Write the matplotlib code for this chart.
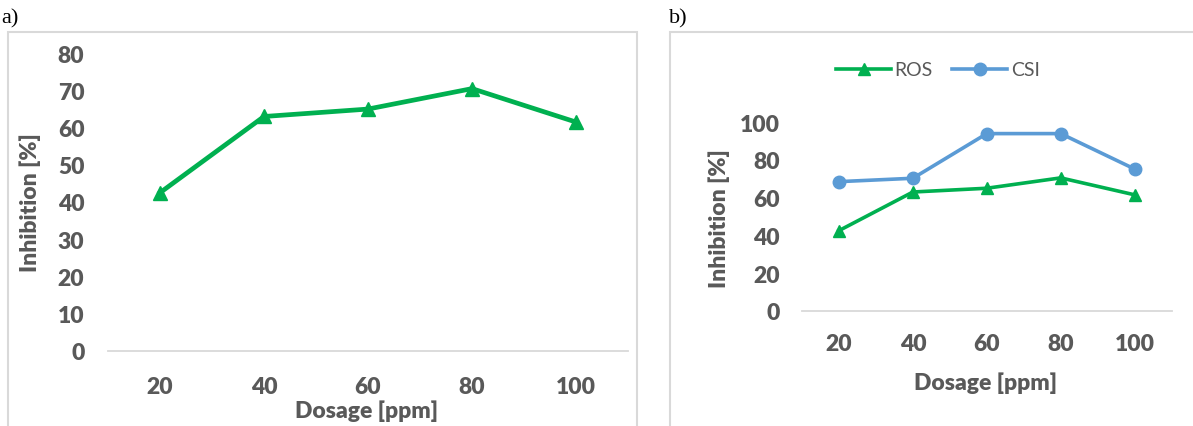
import numpy as np
import matplotlib.pyplot as plt
from matplotlib.patches import Rectangle

# данные
dosage = ['20', '40', '60', '80', '100']
ros = [42.5, 63.0, 65.0, 70.5, 61.5]
csi = [68.5, 70.3, 94.0, 94.0, 75.2]

GREEN = '#00B050'
BLUE = '#5B9BD5'
GRAY = '#595959'
AXIS = '#D9D9D9'

plt.rcParams['font.family'] = ['Lato', 'DejaVu Sans']

W, H = 1193, 427
fig = plt.figure(figsize=(W / 100, H / 100), dpi=100)

def px(x0, y0, x1, y1):
    # прямоугольник в пикселях -> доли фигуры
    return [x0 / W, 1 - y1 / H, (x1 - x0) / W, (y1 - y0) / H]

# рамки панелей
for (x0, y0, x1, y1) in [(8, 33, 637, 440), (670, 33, 1200, 440)]:
    fig.patches.append(Rectangle((x0 / W, 1 - y1 / H), (x1 - x0) / W, (y1 - y0) / H,
                                 transform=fig.transFigure, fill=False,
                                 edgecolor=AXIS, lw=1.5, zorder=0))

fig.text(1 / W, 1 - 19 / H, 'a)', family='Liberation Serif', fontsize=16, va='center')
fig.text(669 / W, 1 - 19 / H, 'b)', family='Liberation Serif', fontsize=16, va='center')

FS = 16.5


def style(ax, ymax, step, tpad_x, tpad_y):
    x = np.arange(len(dosage))
    ax.set_xlim(-0.5, len(dosage) - 0.5)
    ax.set_ylim(0, ymax)
    ax.set_xticks(x)
    ax.set_xticklabels(dosage)
    ax.set_yticks(np.arange(0, ymax + 1, step))
    for s in ['top', 'right', 'left']:
        ax.spines[s].set_visible(False)
    ax.spines['bottom'].set_color(AXIS)
    ax.spines['bottom'].set_linewidth(1.3)
    ax.tick_params(length=0, labelsize=FS, colors=GRAY)
    ax.tick_params(axis='x', pad=tpad_x)
    ax.tick_params(axis='y', pad=tpad_y)
    for lab in ax.get_xticklabels() + ax.get_yticklabels():
        lab.set_fontweight('heavy')
    ax.patch.set_alpha(0)


# панель a
ax1 = fig.add_axes(px(108, 54.3, 628, 351.7))
ax1.plot(np.arange(len(dosage)), ros, color=GREEN, lw=3.4, marker='^', ms=10, clip_on=False)
style(ax1, 80, 10, 18, 17)
ax1.set_xlabel('Dosage [ppm]', fontsize=FS, fontweight='heavy', color=GRAY)
ax1.set_ylabel('Inhibition [%]', fontsize=FS, fontweight='heavy', color=GRAY)
ax1.xaxis.set_label_coords(0.498, -0.163)
ax1.yaxis.set_label_coords(-0.129, 0.5)

# панель b
ax2 = fig.add_axes(px(802, 123.3, 1171.6, 311.7))
x = np.arange(len(dosage))
ax2.plot(x, ros, color=GREEN, lw=2.6, marker='^', ms=9, label='ROS', clip_on=False)
ax2.plot(x, csi, color=BLUE, lw=2.6, marker='o', ms=9, label='CSI', clip_on=False)
style(ax2, 100, 20, 16, 16)
ax2.set_xlabel('Dosage [ppm]', fontsize=FS, fontweight='heavy', color=GRAY)
ax2.set_ylabel('Inhibition [%]', fontsize=FS, fontweight='heavy', color=GRAY)
ax2.xaxis.set_label_coords(0.498, -0.322)
ax2.yaxis.set_label_coords(-0.195, 0.497)
leg = ax2.legend(loc='center', bbox_to_anchor=(0.368, 1.278), ncol=2, frameon=False,
                 fontsize=14, handlelength=2.8, handletextpad=0.2, columnspacing=1.0)
for t in leg.get_texts():
    t.set_color(GRAY)

fig.savefig('out.png', dpi=100)
